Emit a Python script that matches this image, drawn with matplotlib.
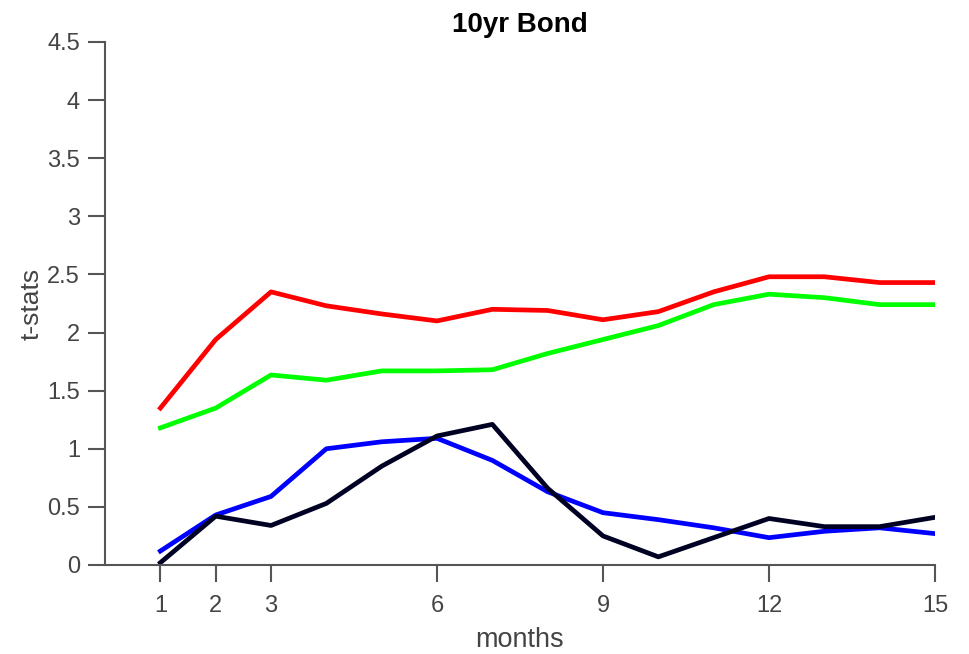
import matplotlib
matplotlib.use("Agg")
import matplotlib.pyplot as plt

plt.rcParams['font.family'] = ['Liberation Sans', 'DejaVu Sans']

# Data
months = list(range(1, 16))
red = [1.35, 1.94, 2.35, 2.23, 2.16, 2.10, 2.20, 2.19, 2.11, 2.18, 2.35, 2.48, 2.48, 2.43, 2.43]
green = [1.18, 1.35, 1.635, 1.59, 1.67, 1.67, 1.68, 1.82, 1.94, 2.06, 2.24, 2.33, 2.30, 2.24, 2.24]
blue = [0.12, 0.43, 0.59, 1.00, 1.06, 1.09, 0.90, 0.63, 0.45, 0.39, 0.32, 0.235, 0.29, 0.32, 0.27]
black = [0.02, 0.42, 0.34, 0.53, 0.85, 1.11, 1.21, 0.66, 0.25, 0.07, 0.235, 0.40, 0.33, 0.33, 0.41]

xticks = [1, 2, 3, 6, 9, 12, 15]
yticks = [0, 0.5, 1, 1.5, 2, 2.5, 3, 3.5, 4, 4.5]
ytick_labels = ["0", "0.5", "1", "1.5", "2", "2.5", "3", "3.5", "4", "4.5"]

fig = plt.figure(figsize=(9.69, 6.54), dpi=100)
ax = fig.add_axes([0.1084, 0.1361, 0.8565, 0.7997])

lw = 3.4
ax.plot(months, red, color="#ff0000", linewidth=lw)
ax.plot(months, green, color="#00ff00", linewidth=lw)
ax.plot(months, blue, color="#0000ff", linewidth=lw)
ax.plot(months, black, color="#000022", linewidth=lw)

ax.set_xlim(0, 15)
ax.set_ylim(0, 4.5)
ax.set_xticks(xticks)
ax.set_yticks(yticks)
ax.set_yticklabels(ytick_labels)

for s in ["top", "right"]:
    ax.spines[s].set_visible(False)
for s in ["left", "bottom"]:
    ax.spines[s].set_color("#555555")
    ax.spines[s].set_linewidth(1.5)

ax.tick_params(direction="out", length=12, width=1.5, color="#555555",
               labelcolor="#444444", labelsize=17)
ax.tick_params(axis="y", pad=6)
ax.tick_params(axis="x", pad=9.5)

ax.set_xlabel("months", fontsize=19.5, color="#444444")
ax.set_ylabel("t-stats", fontsize=19, color="#444444")
ax.xaxis.set_label_coords(0.5, -0.118)
ax.yaxis.set_label_coords(-0.0745, 0.5)
ax.set_title("10yr Bond", fontsize=20, fontweight="bold", pad=7)

plt.savefig("out.png", dpi=100)
